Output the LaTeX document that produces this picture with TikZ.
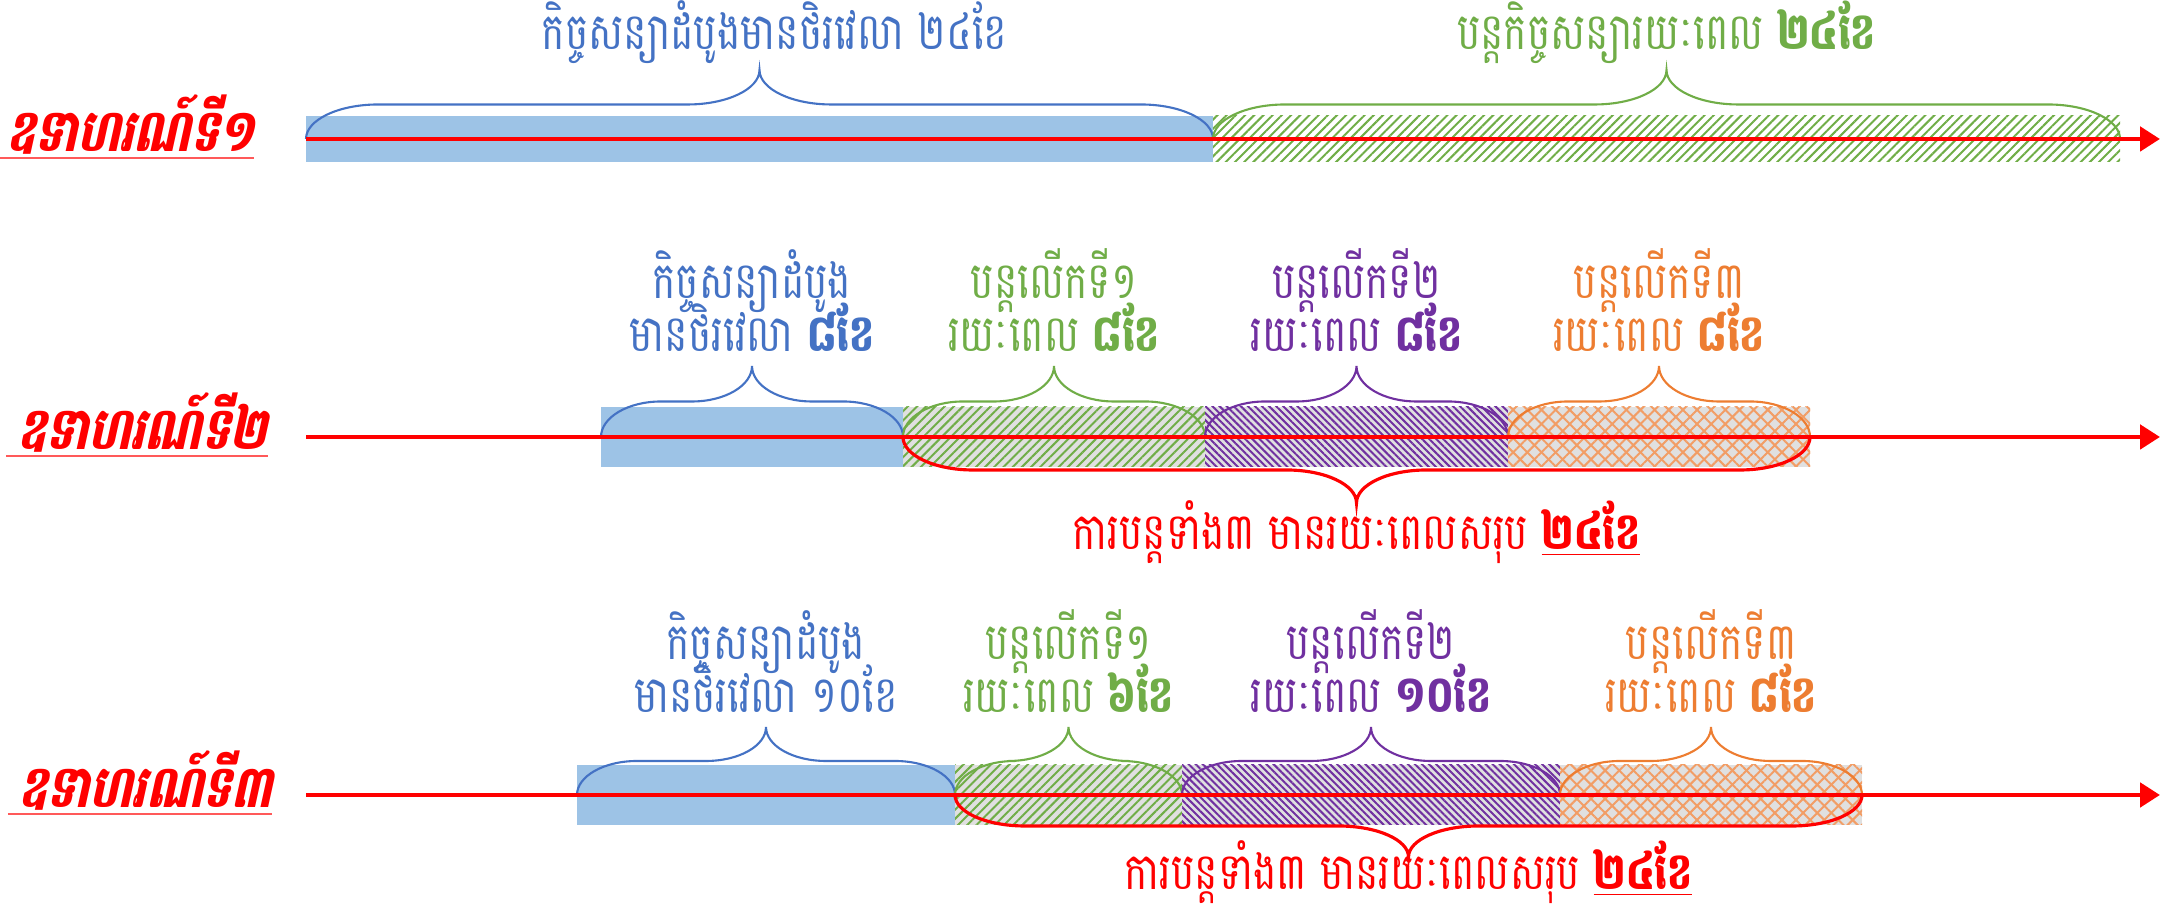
\documentclass[tikz,border=0pt]{standalone}
\usepackage{fontspec}
\setmainfont[Script=Khmer,FakeStretch=0.77]{Battambang}
\newfontfamily\labfont[Script=Khmer,FakeSlant=0.22,FakeStretch=0.77]{Battambang}
\usepackage{tikz}
\usetikzlibrary{arrows.meta,patterns.meta,positioning}

\definecolor{kblue}{HTML}{4472C4}
\definecolor{kfill}{HTML}{9DC3E6}
\definecolor{kgreen}{HTML}{70AD47}
\definecolor{kpurple}{HTML}{7030A0}
\definecolor{korange}{HTML}{ED7D31}
\definecolor{kgray}{HTML}{E0E0E0}

\newcommand{\tightlines}{\fontsize{14.5}{15}\selectfont\lineskiplimit=-50pt\relax}

% [style]{tip name}{x1}{x2}{axis y}{height}{curl width}
\newcommand{\spanbrace}[7][]{%
  \draw[brace,#1] (#3,#5) arc[start angle=180,end angle=90,x radius=#7,y radius=#6]
    -- ({(#3+#4)/2-#7},{#5+#6}) arc[start angle=-90,end angle=0,x radius=#7,y radius=#6]
    coordinate (#2) arc[start angle=180,end angle=270,x radius=#7,y radius=#6]
    -- ({#4-#7},{#5+#6}) arc[start angle=90,end angle=0,x radius=#7,y radius=#6];
}

\begin{document}
\begin{tikzpicture}[
    txt/.style={inner sep=0pt,align=center,text depth=0pt,font=\tightlines},
    sum/.style={txt,text height=3.6mm,text=red},
    lab/.style={inner sep=0pt,anchor=base,text=red,font=\labfont\bfseries\fontsize{16.5}{16.5}\selectfont},
    uline/.style={red!65,line width=0.6pt},
    axis/.style={red,line width=1.4pt,-{Triangle[length=2mm,width=2.4mm]}},
    brace/.style={line width=0.6pt},
    firstbox/.style={fill=kfill},
    greenwide/.style={pattern={Lines[angle=45,distance=0.65mm,line width=0.2mm]},pattern color=kgreen},
    greenbox/.style={preaction={fill=kgray},pattern={Lines[angle=45,distance=0.65mm,line width=0.2mm]},pattern color=kgreen},
    purplebox/.style={preaction={fill=kgray},pattern={Lines[angle=-45,distance=0.5mm,line width=0.2mm]},pattern color=kpurple},
    orangebox/.style={preaction={fill=kgray},preaction={pattern={Lines[angle=45,distance=1mm,line width=0.2mm]},pattern color=korange!75},
      pattern={Lines[angle=-45,distance=1mm,line width=0.2mm]},pattern color=korange!75}]
  \useasboundingbox (0,0) rectangle (21.62,9.19);

  % example 1
  \fill[firstbox] (3.06,7.57) rectangle (12.13,8.03);
  \fill[greenwide] (12.13,7.57) rectangle (21.20,8.03);
  \spanbrace[kblue]{t1b}{3.06}{12.13}{7.80}{0.345}{0.72}
  \spanbrace[kgreen]{t1g}{12.13}{21.20}{7.80}{0.345}{0.72}
  \coordinate (a1) at (3.06,7.80);
  \coordinate (e1) at (21.60,7.80);
  \draw[axis] (a1) -- (e1);
  \node[lab] (ex1) at (1.30,7.67) {ឧទាហរណ៍ទី១};
  \draw[uline] ([xshift=-1mm,yshift=-0.6mm]ex1.base west) -- ([yshift=-0.6mm]ex1.base east);
  \node[txt,text=kblue,above=0.2 of t1b,xshift=1.5mm] (n1b) {កិច្ចសន្យាដំបូងមានថិរវេលា ២៤ខែ};
  \node[txt,text=kgreen,above=0.2 of t1g] (n1g) {បន្តកិច្ចសន្យារយៈពេល \textbf{២៤ខែ}};

  % example 2
  \fill[firstbox] (6.01,4.52) rectangle (9.03,5.12);
  \fill[greenbox] (9.03,4.52) rectangle (12.05,5.12);
  \fill[purplebox] (12.05,4.52) rectangle (15.08,5.12);
  \fill[orangebox] (15.08,4.52) rectangle (18.10,5.12);
  \spanbrace[kblue]{t2b}{6.01}{9.03}{4.82}{0.355}{0.6}
  \spanbrace[kgreen]{t2g}{9.03}{12.05}{4.82}{0.355}{0.6}
  \spanbrace[kpurple]{t2p}{12.05}{15.08}{4.82}{0.355}{0.6}
  \spanbrace[korange]{t2o}{15.08}{18.10}{4.82}{0.355}{0.6}
  \spanbrace[red,line width=0.9pt]{t2r}{9.03}{18.10}{4.82}{-0.33}{0.7}
  \coordinate (a2) at (3.06,4.82);
  \coordinate (e2) at (21.60,4.82);
  \draw[axis] (a2) -- (e2);
  \node[lab] (ex2) at (1.42,4.69) {ឧទាហរណ៍ទី២};
  \draw[uline] ([xshift=-1mm,yshift=-0.6mm]ex2.base west) -- ([yshift=-0.6mm]ex2.base east);
  \node[txt,text=kblue,above=0.14 of t2b] (n2b) {កិច្ចសន្យាដំបូង\\មានថិរវេលា \textbf{៨ខែ}};
  \node[txt,text=kgreen,above=0.14 of t2g] (n2g) {បន្តលើកទី១\\រយៈពេល \textbf{៨ខែ}};
  \node[txt,text=kpurple,above=0.14 of t2p] (n2p) {បន្តលើកទី២\\រយៈពេល \textbf{៨ខែ}};
  \node[txt,text=korange,above=0.14 of t2o] (n2o) {បន្តលើកទី៣\\រយៈពេល \textbf{៨ខែ}};
  \node[sum,below=0.1 of t2r] (n2r) {ការបន្តទាំង៣ មានរយៈពេលសរុប \underline{\textbf{២៤ខែ}}};

  % example 3
  \fill[firstbox] (5.77,0.94) rectangle (9.55,1.54);
  \fill[greenbox] (9.55,0.94) rectangle (11.82,1.54);
  \fill[purplebox] (11.82,0.94) rectangle (15.60,1.54);
  \fill[orangebox] (15.60,0.94) rectangle (18.62,1.54);
  \spanbrace[kblue]{t3b}{5.77}{9.55}{1.24}{0.34}{0.6}
  \spanbrace[kgreen]{t3g}{9.55}{11.82}{1.24}{0.34}{0.6}
  \spanbrace[kpurple]{t3p}{11.82}{15.60}{1.24}{0.34}{0.6}
  \spanbrace[korange]{t3o}{15.60}{18.62}{1.24}{0.34}{0.6}
  \spanbrace[red,line width=0.9pt]{t3r}{9.55}{18.62}{1.24}{-0.31}{0.7}
  \coordinate (a3) at (3.06,1.24);
  \coordinate (e3) at (21.60,1.24);
  \draw[axis] (a3) -- (e3);
  \node[lab] (ex3) at (1.45,1.11) {ឧទាហរណ៍ទី៣};
  \draw[uline] ([xshift=-1mm,yshift=-0.6mm]ex3.base west) -- ([yshift=-0.6mm]ex3.base east);
  \node[txt,text=kblue,above=0.14 of t3b] (n3b) {កិច្ចសន្យាដំបូង\\មានថិរវេលា ១០ខែ};
  \node[txt,text=kgreen,above=0.14 of t3g] (n3g) {បន្តលើកទី១\\រយៈពេល \textbf{៦ខែ}};
  \node[txt,text=kpurple,above=0.14 of t3p] (n3p) {បន្តលើកទី២\\រយៈពេល \textbf{១០ខែ}};
  \node[txt,text=korange,above=0.14 of t3o] (n3o) {បន្តលើកទី៣\\រយៈពេល \textbf{៨ខែ}};
  \node[sum,below=-0.04 of t3r] (n3r) {ការបន្តទាំង៣ មានរយៈពេលសរុប \underline{\textbf{២៤ខែ}}};
\end{tikzpicture}
\end{document}
